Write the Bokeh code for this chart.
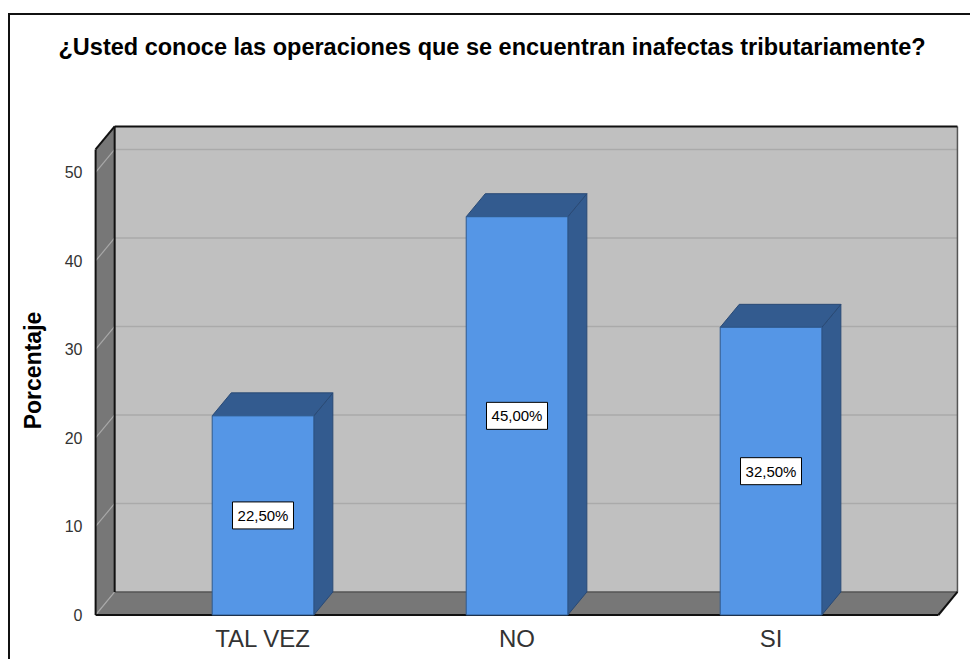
from bokeh.plotting import figure
from bokeh.models import ColumnDataSource, FixedTicker, Range1d, Title
from bokeh.core.properties import value
from bokeh.embed import file_html
from bokeh.resources import INLINE

# ---- data ----
categories = ["TAL VEZ", "NO", "SI"]
percentages = [22.5, 45.0, 32.5]
y_ticks = [0, 10, 20, 30, 40, 50]
title_text = "¿Usted conoce las operaciones que se encuentran inafectas tributariamente?"
y_label = "Porcentaje"

# ---- layout / style constants (3D box geometry in data units) ----
BAR_W = 0.40
DX = 0.075
DY = 2.6
X_LO = -0.659
X_HI = 2.659
Y_TOP = 52.6
FONT = "Liberation Sans"

xs = list(range(len(categories)))

W, H = 962, 646
p = figure(width=W, height=H, output_backend="svg", toolbar_location=None,
           x_range=Range1d(-0.6673, 2.746), y_range=Range1d(-0.17, 55.42),
           min_border_left=83, min_border_right=W - 950, min_border_top=109,
           min_border_bottom=H - 601)
p.outline_line_color = None
p.xgrid.visible = False
p.ygrid.visible = False
p.background_fill_color = "white"
p.border_fill_color = "white"
p.styles = {
    "margin-left": "8px",
    "margin-top": "13px",
    "border-left": "2px solid #111",
    "border-top": "2px solid #111",
}

# back wall
p.quad(left=X_LO + DX, right=X_HI + DX, bottom=DY, top=Y_TOP + DY,
       fill_color="#c0c0c0", line_color=None)
grid_t = [t for t in y_ticks if t > 0]
p.multi_line(xs=[[X_LO + DX, X_HI + DX] for t in grid_t],
             ys=[[t + DY, t + DY] for t in grid_t], line_color="#aaaaaa", line_width=1.5)
# floor
p.patch([X_LO, X_HI, X_HI + DX, X_LO + DX], [0, 0, DY, DY],
        fill_color="#777777", line_color=None)
# left wall
p.patch([X_LO, X_LO + DX, X_LO + DX, X_LO], [0, DY, Y_TOP + DY, Y_TOP],
        fill_color="#777777", line_color=None)
p.multi_line(xs=[[X_LO, X_LO + DX] for t in y_ticks],
             ys=[[t, t + DY] for t in y_ticks], line_color="#a8a8a8", line_width=1.2)
# light edges
p.multi_line(xs=[[X_LO + DX, X_HI + DX], [X_HI + DX, X_HI + DX]],
             ys=[[DY, DY], [DY, Y_TOP + DY]], line_color="#555555", line_width=1.5)
# dark edges
p.multi_line(xs=[[X_LO, X_LO], [X_LO, X_LO + DX], [X_LO + DX, X_HI + DX],
                 [X_LO + DX, X_LO + DX], [X_LO, X_HI], [X_HI, X_HI + DX]],
             ys=[[0, Y_TOP], [Y_TOP, Y_TOP + DY], [Y_TOP + DY, Y_TOP + DY],
                 [DY, Y_TOP + DY], [0, 0], [0, DY]],
             line_color="#111111", line_width=2)

# bars
left = [x - BAR_W / 2 for x in xs]
right = [x + BAR_W / 2 for x in xs]
src = ColumnDataSource(dict(x=xs, left=left, right=right, top=percentages,
                            mid=[v / 2 for v in percentages],
                            lab=[f"{v:.2f}%".replace(".", ",") for v in percentages]))
p.patches(xs=[[r, r + DX, r + DX, r] for r in right],
          ys=[[0, DY, v + DY, v] for v in percentages],
          fill_color="#335b8f", line_color="#2a4a75", line_width=1)
p.patches(xs=[[l, r, r + DX, l + DX] for l, r in zip(left, right)],
          ys=[[v, v, v + DY, v + DY] for v in percentages],
          fill_color="#335b8f", line_color="#2a4a75", line_width=1)
p.quad(left="left", right="right", bottom=0, top="top", source=src,
       fill_color="#5596e6", line_color="#2f5a8f", line_width=1)

# value labels (white boxes)
p.rect(x="x", y="mid", width=61, height=27, width_units="screen",
       height_units="screen", source=src, fill_color="white",
       line_color="black", line_width=1)
p.text(x="x", y="mid", text="lab", source=src, text_align="center",
       text_baseline="middle", text_font=value(FONT), text_font_size="15px",
       text_color="black")

# axes
p.xaxis.ticker = FixedTicker(ticks=xs)
p.xaxis.major_label_overrides = {x: c for x, c in zip(xs, categories)}
p.yaxis.ticker = FixedTicker(ticks=y_ticks)
for ax in (p.xaxis, p.yaxis):
    ax.axis_line_color = None
    ax.major_tick_line_color = None
    ax.minor_tick_line_color = None
    ax.major_label_text_font = FONT
    ax.major_label_text_color = "#333333"
p.xaxis.major_label_text_font_size = "24px"
p.xaxis.major_label_standoff = 2
p.yaxis.major_label_text_font_size = "16px"
p.yaxis.major_label_standoff = 5
p.yaxis.axis_label = y_label
p.yaxis.axis_label_text_font = FONT
p.yaxis.axis_label_text_font_size = "23px"
p.yaxis.axis_label_text_font_style = "bold"
p.yaxis.axis_label_text_color = "black"
p.yaxis.axis_label_standoff = 16

# title (outermost) + spacer next to the frame
p.title.text = title_text
p.title.text_font = FONT
p.title.text_font_size = "23.5px"
p.title.text_font_style = "bold"
p.title.text_color = "black"
p.title.align = "left"
p.title.offset = -35
p.title.standoff = 0
spacer = Title(text=" ", text_font_size="1px", standoff=62)
p.add_layout(spacer, "above")

open("out.html", "w").write(file_html(p, INLINE))
